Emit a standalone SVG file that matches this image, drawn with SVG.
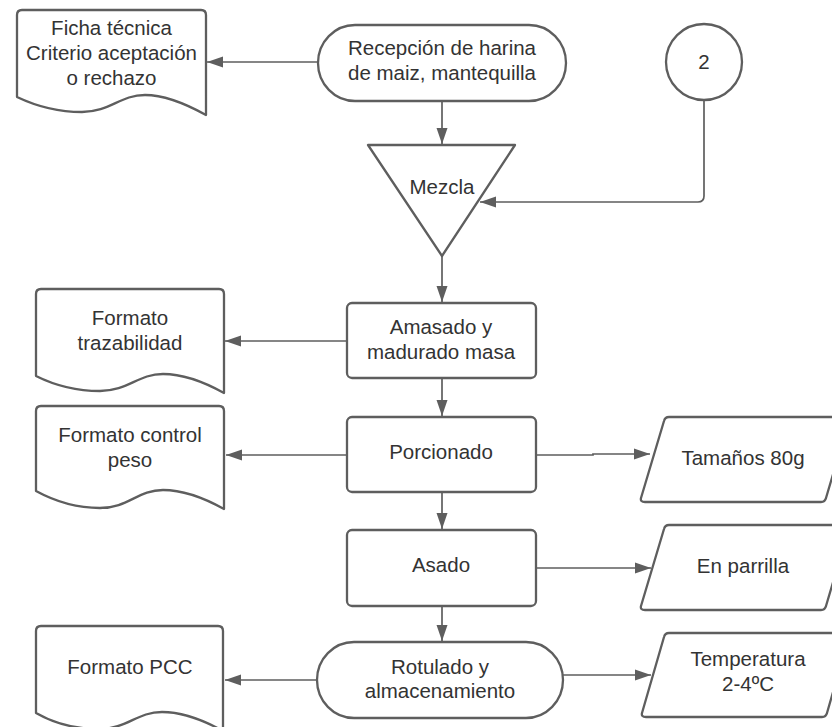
<svg xmlns="http://www.w3.org/2000/svg" width="832" height="727" viewBox="0 0 832 727">
  <defs>
    <marker id="arrow" markerUnits="userSpaceOnUse" markerWidth="16" markerHeight="12" refX="16" refY="6" orient="auto">
      <path d="M0,0.5 L16,6 L0,11.5 z" fill="#5e5e5e"/>
    </marker>
  </defs>
  <style>
    .shape { fill: #ffffff; stroke: #5e5e5e; stroke-width: 2.3; stroke-linejoin: round; }
    .conn { fill: none; stroke: #5e5e5e; stroke-width: 1.7; }
    .arr { marker-end: url(#arrow); }
    text { font-family: "Liberation Sans", Arial, sans-serif; font-size: 20.5px; fill: #333333; text-anchor: middle; }
  </style>
  <rect width="832" height="727" fill="#ffffff"/>

  <!-- connectors -->
  <g id="connectors">
    <path class="conn arr" d="M318,62 H207"/>
    <path class="conn arr" d="M442,101 V144"/>
    <path class="conn arr" d="M704,100 V196 Q704,202 698,202 H480"/>
    <path class="conn arr" d="M442,256 V302"/>
    <path class="conn arr" d="M347,341 H225"/>
    <path class="conn arr" d="M442,378 V416"/>
    <path class="conn arr" d="M347,455 H226"/>
    <path class="conn arr" d="M536,455 H593 V454 H650"/>
    <path class="conn arr" d="M442,492 V529"/>
    <path class="conn arr" d="M536,568 H651"/>
    <path class="conn arr" d="M442,606 V641"/>
    <path class="conn arr" d="M317,680 H225"/>
    <path class="conn arr" d="M563,675 H651"/>
  </g>

  <!-- document: Ficha técnica -->
  <g id="doc-ficha">
    <path class="shape" d="M17,15 Q17,10 22,10 H201 Q206,10 206,15 V115 C188,105 165,95 145,95 C120,95 110,112 82,112 C60,112 40,108 17,97 Z"/>
    <text x="111.5" y="35">Ficha técnica</text>
    <text x="111.5" y="60">Criterio aceptación</text>
    <text x="111.5" y="85">o rechazo</text>
  </g>

  <!-- terminal: Recepción -->
  <g id="start-recepcion">
    <rect class="shape" x="318" y="25" width="248" height="76" rx="37" ry="38"/>
    <text x="442" y="55">Recepción de harina</text>
    <text x="442" y="80">de maiz, mantequilla</text>
  </g>

  <!-- connector circle 2 -->
  <g id="connector-2">
    <circle class="shape" cx="704" cy="62" r="38"/>
    <text x="704" y="69">2</text>
  </g>

  <!-- merge: Mezcla -->
  <g id="merge-mezcla">
    <path class="shape" d="M368,145 H515 L442,256 Z"/>
    <text x="442" y="194">Mezcla</text>
  </g>

  <!-- document: Formato trazabilidad -->
  <g id="doc-trazabilidad">
    <path class="shape" d="M36,294 Q36,289 41,289 H219 Q224,289 224,294 V393 C206,383 183,374 163,374 C138,374 128,391 100,391 C78,391 58,387 36,376 Z"/>
    <text x="130" y="325">Formato</text>
    <text x="130" y="350">trazabilidad</text>
  </g>

  <!-- process: Amasado -->
  <g id="proc-amasado">
    <rect class="shape" x="347" y="303" width="189" height="75" rx="5"/>
    <text x="441" y="334">Amasado y</text>
    <text x="441" y="359">madurado masa</text>
  </g>

  <!-- document: Formato control peso -->
  <g id="doc-control-peso">
    <path class="shape" d="M36,411 Q36,406 41,406 H219 Q224,406 224,411 V509 C206,499 183,490 163,490 C138,490 128,508 100,508 C78,508 58,503 36,491 Z"/>
    <text x="130" y="442">Formato control</text>
    <text x="130" y="467">peso</text>
  </g>

  <!-- process: Porcionado -->
  <g id="proc-porcionado">
    <rect class="shape" x="347" y="417" width="189" height="75" rx="5"/>
    <text x="441" y="459">Porcionado</text>
  </g>

  <!-- data: Tamaños -->
  <g id="data-tamanos">
    <path class="shape" d="M664,421 Q665,417 669,417 H850 L826,498 Q825,502 821,502 H645 Q640,502 641,498 Z"/>
    <text x="743" y="465">Tamaños 80g</text>
  </g>

  <!-- process: Asado -->
  <g id="proc-asado">
    <rect class="shape" x="347" y="530" width="189" height="76" rx="5"/>
    <text x="441" y="572">Asado</text>
  </g>

  <!-- data: En parrilla -->
  <g id="data-parrilla">
    <path class="shape" d="M664,529 Q665,525 669,525 H850 L826,606 Q825,610 821,610 H645 Q640,610 641,606 Z"/>
    <text x="743" y="573">En parrilla</text>
  </g>

  <!-- document: Formato PCC -->
  <g id="doc-pcc">
    <path class="shape" d="M36,631 Q36,626 41,626 H218 Q223,626 223,631 V731 C205,721 182,712 162,712 C137,712 127,729 99,729 C77,729 57,725 36,713 Z"/>
    <text x="130" y="674">Formato PCC</text>
  </g>

  <!-- terminal: Rotulado -->
  <g id="end-rotulado">
    <rect class="shape" x="317" y="642" width="246" height="76" rx="37" ry="38"/>
    <text x="440" y="674">Rotulado y</text>
    <text x="440" y="698">almacenamiento</text>
  </g>

  <!-- data: Temperatura -->
  <g id="data-temperatura">
    <path class="shape" d="M664,637 Q665,633 669,633 H850 L827,713 Q826,717 822,717 H646 Q641,717 642,713 Z"/>
    <text x="748" y="666">Temperatura</text>
    <text x="748" y="691">2-4ºC</text>
  </g>
</svg>
